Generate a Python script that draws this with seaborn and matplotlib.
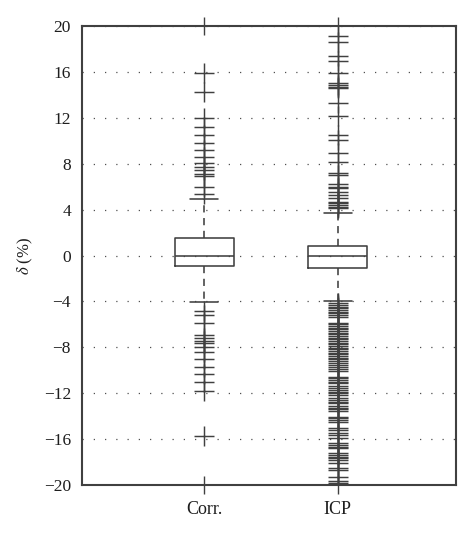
import matplotlib
matplotlib.use("Agg")
import matplotlib.pyplot as plt
import pandas as pd
import seaborn as sns

# box statistics (delta, %)
groups = ["Corr.", "ICP"]
box_q1 = [-0.92, -1.12]
box_median = [0.0, 0.0]
box_q3 = [1.52, 0.83]
whisker_lo = [-4.05, -3.95]
whisker_hi = [4.9, 3.67]

corr_outliers = [
    15.9, 14.3, 11.95, 11.2, 10.5, 9.8, 9.2, 8.55, 8.1, 7.75, 7.45, 7.1, 6.9,
    6.0, 5.35,
    -4.8, -5.2, -5.85, -6.9, -7.2, -7.45, -7.65, -8.0, -8.4, -9.05, -9.7,
    -10.35, -11.0, -11.85, -15.75,
]
icp_outliers = [
    19.13, 18.63, 17.39, 16.95, 15.88, 15.06, 14.86, 14.71, 14.57, 13.32,
    12.16, 10.5, 10.07, 8.96, 8.18, 7.22, 7.02, 6.2, 6.0, 5.86, 5.56, 5.27,
    4.98, 4.69, 4.55, 4.4, 4.25, 4.11,
    -4.17, -4.31, -4.46, -4.6, -4.75, -4.9, -5.04, -5.19, -5.33, -5.85, -6.0,
    -6.14, -6.29, -6.43, -6.58, -6.72, -6.87, -7.02, -7.16, -7.31, -7.45,
    -7.6, -7.74, -7.89, -8.03, -8.18, -8.32, -8.47, -8.61, -8.76, -8.9,
    -9.05, -9.19, -9.4, -9.54, -9.69, -9.92, -10.07, -10.56, -10.7, -10.85,
    -10.99, -11.14, -11.37, -11.52, -11.72, -11.87, -12.01, -12.16, -12.39,
    -12.59, -12.74, -12.88, -13.09, -13.26, -13.41, -13.55, -14.04, -14.19,
    -14.34, -14.48, -15.0, -15.21, -15.5, -15.64, -15.87, -16.37, -16.51,
    -16.66, -16.8, -17.24, -17.39, -17.53, -17.68, -17.82, -18.11, -18.49,
    -18.69, -19.27, -19.65, -19.8,
]
y_ticks = [-20, -16, -12, -8, -4, 0, 4, 8, 12, 16, 20]

sns.set_theme(style="white")
plt.rcParams["font.family"] = ["Liberation Serif", "DejaVu Serif"]
plt.rcParams["mathtext.fontset"] = "stix"

ink = "#404040"
text_ink = "#1e1e1e"

fig = plt.figure(figsize=(4.74, 5.34), dpi=100)
ax = fig.add_axes([0.173, 0.092, 0.789, 0.859])

stats = []
for i, name in enumerate(groups):
    stats.append(
        {
            "label": name,
            "q1": box_q1[i],
            "med": box_median[i],
            "q3": box_q3[i],
            "whislo": whisker_lo[i],
            "whishi": whisker_hi[i],
            "fliers": [],
        }
    )

ax.bxp(
    stats,
    positions=range(len(groups)),
    widths=0.44,
    capwidths=0.21,
    showfliers=False,
    boxprops={"color": ink, "linewidth": 1.15},
    medianprops={"color": ink, "linewidth": 1.15},
    whiskerprops={"color": ink, "linewidth": 1.15, "linestyle": (0, (4.5, 3.5))},
    capprops={"color": ink, "linewidth": 1.15},
)

outliers = pd.concat(
    [
        pd.DataFrame({"method": groups[0], "delta": corr_outliers}),
        pd.DataFrame({"method": groups[1], "delta": icp_outliers}),
    ],
    ignore_index=True,
)
outliers["pos"] = outliers["method"].map({g: i for i, g in enumerate(groups)})

sns.scatterplot(
    data=outliers,
    x="pos",
    y="delta",
    marker="+",
    s=200,
    color=ink,
    linewidth=1.05,
    legend=False,
    ax=ax,
    zorder=3,
)

ax.set_xlim(-0.92, 1.89)
ax.set_ylim(-20, 20)
ax.set_yticks(y_ticks)
ax.set_xticks(range(len(groups)))
ax.set_xticklabels(groups)
ax.set_xlabel("")
ax.set_ylabel(r"$\delta$ (%)", fontsize=12, labelpad=6, color=text_ink)

ax.yaxis.grid(True, color="#505050", linestyle=(0, (1, 8)), linewidth=0.9)
ax.xaxis.grid(False)
ax.set_axisbelow(True)

for spine in ax.spines.values():
    spine.set_color(ink)
    spine.set_linewidth(1.5)

ax.tick_params(axis="x", direction="inout", length=13, width=1.0, color=ink,
               top=True, bottom=True, labelsize=13, pad=5, labelcolor=text_ink)
ax.tick_params(axis="y", length=0, labelsize=12.5, pad=8, labelcolor=text_ink)

fig.savefig("out.png", dpi=100)
